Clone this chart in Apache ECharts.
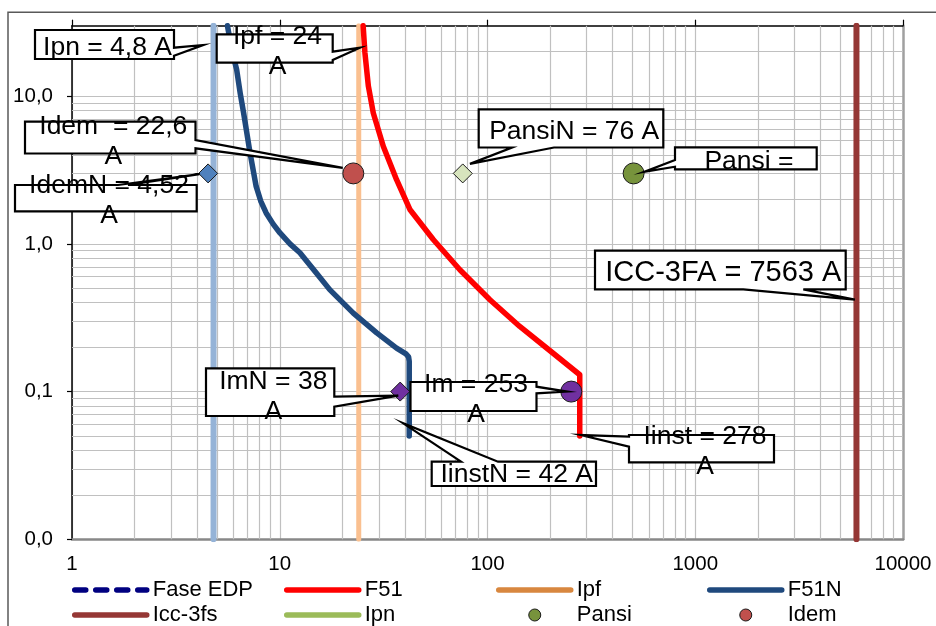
<!DOCTYPE html>
<html>
<head>
<meta charset="utf-8">
<script src="https://cdn.jsdelivr.net/npm/echarts@6/dist/echarts.min.js"></script>
<style>
  html, body { margin: 0; padding: 0; background: #fff; }
  #chart { width: 936px; height: 626px; }
</style>
</head>
<body>
<div id="chart"></div>
<script>
// corriente (A) / tiempo (s), escala log-log
var xTickValues = [1, 10, 100, 1000, 10000];
var yTickValues = [0.01, 0.1, 1, 10];

var faseEdp = [];
var f51 = [[25.2, 30], [25.7, 19.7], [26.7, 11.7], [28.2, 7.7], [31.5, 4.58], [36.5, 2.72],
  [42.3, 1.71], [54.8, 1.07], [73.6, 0.668], [102.7, 0.419], [143, 0.276], [200, 0.189],
  [278, 0.13], [278, 0.05]];
var f51n = [[5.6, 30], [5.9, 20], [6.2, 15.2], [6.45, 10.5], [6.7, 7.7], [7.2, 4.1], [7.7, 2.45],
  [8.1, 1.95], [8.6, 1.62], [9.3, 1.36], [10, 1.19], [11.2, 1.0], [12.5, 0.87], [15, 0.635],
  [17.4, 0.49], [22.6, 0.34], [29.3, 0.25], [36.5, 0.197], [40.5, 0.18], [41.7, 0.172],
  [42, 0.16], [42, 0.05]];
var ipn = [[4.8, 0.01], [4.8, 30]];
var ipf = [[24, 0.01], [24, 30]];
var icc3fs = [[5970, 0.01], [5970, 30]];
var idemN = [[4.52, 3]];
var idem = [[22.6, 3]];
var pansiN = [[76, 3]];
var pansi = [[505, 3]];
var imN = [[38, 0.1]];
var im = [[253, 0.1]];

// callouts: box in px, wedge base along one side, tip in data units
var callouts = [
  { text: 'Ipn = 4,8 A', box: [35, 30, 174, 59], side: 'right', base: [47.7, 55.7], tip: [4.28, 22.2], at: [107.5, 47.3] },
  { text: 'Ipf = 24\nA', box: [216.7, 34.3, 332.7, 62.7], side: 'right', base: [51.7, 60], tip: [24.3, 21.3], at: [277.5, 51.7] },
  { text: 'Idem  = 22,6\nA', box: [25, 121.7, 195.5, 153.5], side: 'right', base: [140, 148.3], tip: [20.1, 3.27], at: [113.3, 141.7] },
  { text: 'IdemN = 4,52\nA', box: [15, 185, 196.7, 211.3], side: 'top', base: [118, 128], tip: [4.11, 2.97], at: [109, 201] },
  { text: 'PansiN = 76 A', box: [478.7, 109.3, 663.3, 147.5], side: 'bottom', base: [512, 554], tip: [82.3, 3.48], at: [574.2, 131.2] },
  { text: 'Pansi =', box: [675, 147.3, 816.7, 169.3], side: 'left', base: [160, 166.7], tip: [567, 3.07], at: [749, 161.5] },
  { text: 'ICC-3FA = 7563 A', box: [595, 250.7, 845.7, 289.3], side: 'bottom', base: [743.3, 803.3], tip: [5866, 0.419], at: [723.3, 273.3], size: 29 },
  { text: 'ImN = 38\nA', box: [206, 368.3, 334.3, 416], side: 'right', base: [396.7, 406.7], tip: [37.2, 0.0938], at: [273.3, 397] },
  { text: 'Im = 253\nA', box: [410.5, 382, 536.5, 411], side: 'right', base: [386.7, 393.3], tip: [241, 0.1], at: [476, 399.5] },
  { text: 'IinstN = 42 A', box: [431.7, 461.7, 596, 486], side: 'top', base: [461, 498], tip: [39.2, 0.0611], at: [516.7, 475] },
  { text: 'Iinst = 278\nA', box: [629, 435, 774, 462.3], side: 'left', base: [436.7, 446.7], tip: [280.6, 0.0508], at: [705, 451.2] }
];

var FONT = 'Liberation Sans';

function isPow10(v) {
  var l = Math.log10(v);
  return Math.abs(l - Math.round(l)) < 1e-6;
}

// minor log grid (2..9 per decade)
function logMinor(from, to, top) {
  var out = [];
  for (var d = from; d < to; d *= 10) {
    for (var k = 2; k <= 9; k++) {
      var v = Number((k * d).toPrecision(6));
      if (v < top) out.push(v);
    }
  }
  return out;
}
var minorX = logMinor(1, 10000, 10000);
var minorY = logMinor(0.01, 100, 30);

var chart = echarts.init(document.getElementById('chart'));

function lineSeries(name, data, color, width, z) {
  return {
    name: name, type: 'line', data: data, symbol: 'none', z: z || 3,
    lineStyle: { color: color, width: width, cap: 'round', join: 'round' },
    itemStyle: { color: color }
  };
}
function pointSeries(name, data, symbol, size, color) {
  return {
    name: name, type: 'scatter', data: data, symbol: symbol, symbolSize: size, z: 5,
    itemStyle: { color: color, borderColor: '#1a1a1a', borderWidth: 1, opacity: 1 }
  };
}

var legendBase = {
  orient: 'vertical', top: 579, padding: 0, itemGap: 3,
  itemWidth: 72, itemHeight: 12, selectedMode: false,
  textStyle: { fontSize: 22, fontFamily: FONT, color: '#000', padding: [0, 0, 0, 1] }
};
function lineItem(name, color, type) {
  return { name: name, itemStyle: { opacity: 0 },
    lineStyle: { color: color, width: 5.5, type: type || 'solid', cap: 'round', opacity: 1 } };
}
function dotItem(name, color) {
  return { name: name, itemStyle: { color: color, borderColor: '#1a1a1a', borderWidth: 1 } };
}

var gridLine = { color: '#c0c0c0', width: 1.2 };

chart.setOption({
  animation: false,
  backgroundColor: '#fff',
  grid: { left: 72, right: 33, top: 25.7, bottom: 86.7 },
  xAxis: [{
    type: 'log', min: 1, max: 10000, position: 'bottom',
    axisLine: { lineStyle: { color: '#888', width: 2.5 } },
    axisTick: { show: false },
    axisLabel: {
      fontSize: 20.5, fontFamily: FONT, color: '#000', margin: 15,
      formatter: function (v) { return isPow10(v) ? String(Math.round(v)) : ''; }
    },
    splitLine: { show: true, lineStyle: gridLine }
  }, {
    type: 'log', min: 1, max: 10000, position: 'top',
    axisLine: { lineStyle: { color: '#000', width: 1.5 } },
    axisTick: { show: true, length: 6, lineStyle: { color: '#000', width: 1.2 } },
    axisLabel: { show: false },
    splitLine: { show: false }
  }],
  yAxis: [{
    type: 'log', min: 0.01, max: 30, position: 'left',
    axisLine: { show: true, lineStyle: { color: '#000', width: 1.5 } },
    axisTick: { show: true, length: 5, customValues: yTickValues, lineStyle: { color: '#000', width: 1.2 } },
    axisLabel: {
      fontSize: 20.5, fontFamily: FONT, color: '#000', margin: 19,
      formatter: function (v) { return isPow10(v) ? v.toFixed(1).replace('.', ',') : ''; }
    },
    splitLine: { show: true, lineStyle: gridLine }
  }, {
    type: 'log', min: 0.01, max: 30, position: 'right',
    axisLine: { show: true, lineStyle: { color: '#a0a0a0', width: 2.5 } },
    axisTick: { show: false }, axisLabel: { show: false }, splitLine: { show: false }
  }],
  legend: [
    Object.assign({ left: 72, data: [lineItem('Fase EDP', '#000080', [11, 10]), lineItem('Icc-3fs', '#953735')] }, legendBase),
    Object.assign({ left: 284, data: [lineItem('F51', '#ff0000'), lineItem('Ipn', '#9bbb59')] }, legendBase),
    Object.assign({ left: 496, data: [lineItem('Ipf', '#d8873f'), dotItem('Pansi', '#77933c')] }, legendBase),
    Object.assign({ left: 707, data: [lineItem('F51N', '#1f497d'), dotItem('Idem', '#c0504d')] }, legendBase)
  ],
  series: [
    {
      name: 'grid', type: 'line', data: [], z: 1, silent: true,
      markLine: {
        z: 1, silent: true, symbol: ['none', 'none'], label: { show: false },
        lineStyle: { color: gridLine.color, width: gridLine.width, type: 'solid' },
        emphasis: { disabled: true },
        data: minorX.map(function (v) { return { xAxis: v }; })
          .concat(minorY.map(function (v) { return { yAxis: v }; }))
      }
    },
    lineSeries('Fase EDP', faseEdp, '#000080', 4),
    lineSeries('Ipn', ipn, '#95b3d7', 6, 2),
    lineSeries('Ipf', ipf, '#fac090', 5, 2),
    lineSeries('Icc-3fs', icc3fs, '#953735', 6, 2),
    lineSeries('F51', f51, '#ff0000', 5.5),
    lineSeries('F51N', f51n, '#1f497d', 5.5),
    pointSeries('IdemN', idemN, 'diamond', 19, '#4f81bd'),
    pointSeries('Idem', idem, 'circle', 21, '#c0504d'),
    pointSeries('PansiN', pansiN, 'diamond', 19, '#d7e4bd'),
    pointSeries('Pansi', pansi, 'circle', 21, '#77933c'),
    pointSeries('ImN', imN, 'diamond', 19, '#7030a0'),
    pointSeries('Im', im, 'circle', 21, '#7030a0')
  ]
});

// callout boxes drawn over the plot, wedge tip mapped through the axes
function calloutPoints(c) {
  var b = c.box, x0 = b[0], y0 = b[1], x1 = b[2], y1 = b[3];
  var t = chart.convertToPixel({ xAxisIndex: 0, yAxisIndex: 0 }, c.tip);
  var p = [[x0, y0]];
  if (c.side === 'top') p.push([c.base[0], y0], t, [c.base[1], y0]);
  p.push([x1, y0]);
  if (c.side === 'right') p.push([x1, c.base[0]], t, [x1, c.base[1]]);
  p.push([x1, y1]);
  if (c.side === 'bottom') p.push([c.base[1], y1], t, [c.base[0], y1]);
  p.push([x0, y1]);
  if (c.side === 'left') p.push([x0, c.base[1]], t, [x0, c.base[0]]);
  return p;
}

var elements = [{
  type: 'rect', z: 0, silent: true,
  shape: { x: 8, y: 12.3, width: 1000, height: 1000 },
  style: { fill: 'none', stroke: '#595959', lineWidth: 1.5 }
}];
callouts.forEach(function (c) {
  elements.push({
    type: 'polygon', z: 100, silent: true,
    shape: { points: calloutPoints(c) },
    style: { fill: '#fff', stroke: '#000', lineWidth: 2.2, lineJoin: 'miter' }
  });
  elements.push({
    type: 'text', z: 101, silent: true, x: c.at[0], y: c.at[1],
    style: {
      text: c.text, fontSize: c.size || 26.5, fontFamily: FONT, fill: '#000',
      align: 'center', verticalAlign: 'middle', lineHeight: 30
    }
  });
});
chart.setOption({ graphic: elements });
</script>
</body>
</html>
